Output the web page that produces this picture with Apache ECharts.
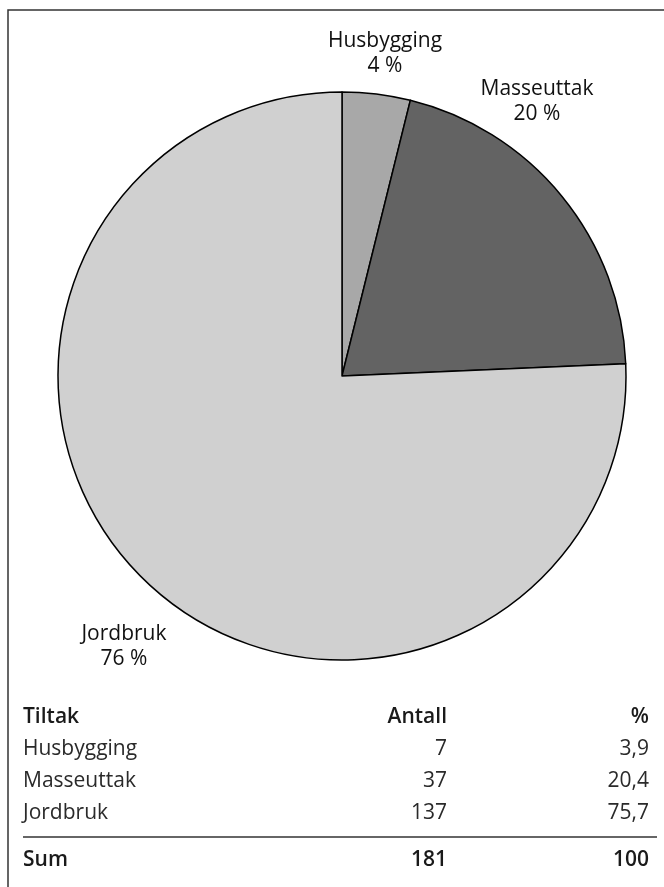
<!DOCTYPE html>
<html>
<head>
<meta charset="utf-8">
<script src="https://cdn.jsdelivr.net/npm/echarts@6/dist/echarts.min.js"></script>
<style>
  html, body { margin: 0; padding: 0; background: #fff; }
  #chart { width: 664px; height: 887px; }
</style>
</head>
<body>
<div id="chart"></div>
<script>
// ---- Data ----
var categories = ['Husbygging', 'Masseuttak', 'Jordbruk'];
var counts = [7, 37, 137];
var percentText = ['3,9', '20,4', '75,7'];
var sliceColors = ['#a8a8a8', '#636363', '#d0d0d0'];
var headers = ['Tiltak', 'Antall', '%'];
var sumRow = ['Sum', '181', '100'];

// ---- Layout (not data) ----
var FONT = '"Open Sans", "Noto Sans", sans-serif';
var labelPos = [[385, 54], [537, 102], [124, 647]];
var colX = [23, 447, 649];
var headerY = 717;
var rowY0 = 749, rowStep = 32;
var ruleY = 837;
var sumY = 860;

var chart = echarts.init(document.getElementById('chart'), null, { renderer: 'canvas' });

var graphics = [];
graphics.push({
  type: 'rect',
  shape: { x: 8, y: 10, width: 720, height: 920 },
  style: { fill: 'none', stroke: '#333', lineWidth: 1.5 },
  silent: true
});
function txt(x, y, text, align, bold) {
  graphics.push({
    type: 'text',
    x: x, y: y,
    style: {
      text: text, fill: bold ? '#1a1a1a' : '#2a2a2a',
      font: (bold ? '600 ' : 'normal ') + '21px ' + FONT,
      textAlign: align, textVerticalAlign: 'middle'
    },
    silent: true
  });
}
txt(colX[0], headerY, headers[0], 'left', true);
txt(colX[1], headerY, headers[1], 'right', true);
txt(colX[2], headerY, headers[2], 'right', true);
for (var i = 0; i < categories.length; i++) {
  var y = rowY0 + i * rowStep;
  txt(colX[0], y, categories[i], 'left', false);
  txt(colX[1], y, String(counts[i]), 'right', false);
  txt(colX[2], y, percentText[i], 'right', false);
}
graphics.push({
  type: 'line',
  shape: { x1: colX[0], y1: ruleY, x2: 657, y2: ruleY },
  style: { stroke: '#333', lineWidth: 1.5 },
  silent: true
});
txt(colX[0], sumY, sumRow[0], 'left', true);
txt(colX[1], sumY, sumRow[1], 'right', true);
txt(colX[2], sumY, sumRow[2], 'right', true);

var pieData = categories.map(function (c, i) {
  return { name: c, value: counts[i], itemStyle: { color: sliceColors[i] } };
});

chart.setOption({
  backgroundColor: '#fff',
  animation: false,
  graphic: graphics,
  series: [{
    type: 'pie',
    center: [342, 376],
    radius: 284,
    startAngle: 90,
    clockwise: true,
    percentPrecision: 0,
    avoidLabelOverlap: false,
    itemStyle: { borderColor: '#000', borderWidth: 1.5 },
    emphasis: { disabled: true },
    label: {
      show: true,
      position: 'outside',
      formatter: '{b}\n{d} %',
      fontFamily: FONT,
      fontSize: 21,
      lineHeight: 25,
      color: '#111',
      align: 'center'
    },
    labelLine: { show: false },
    labelLayout: function (params) {
      var p = labelPos[params.dataIndex];
      return { x: p[0], y: p[1], align: 'center', verticalAlign: 'middle', draggable: false };
    },
    data: pieData
  }]
});
</script>
</body>
</html>
